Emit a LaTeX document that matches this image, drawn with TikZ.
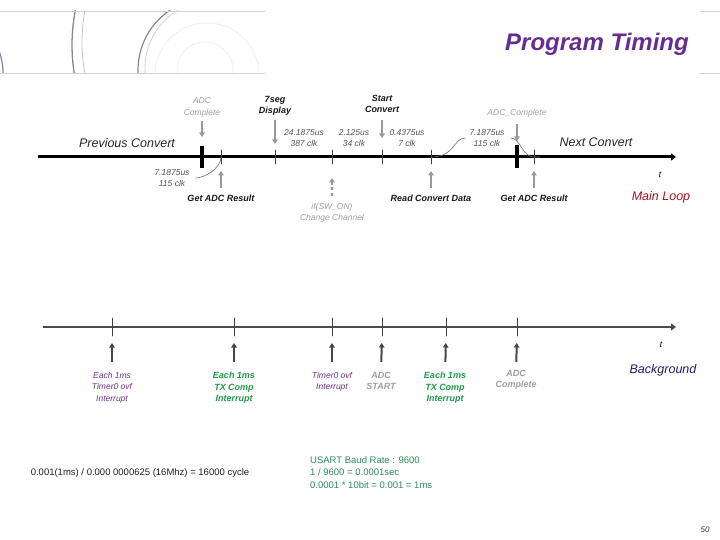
\documentclass[tikz,border=0pt]{standalone}
\usepackage{fontspec}
\setmainfont{Liberation Sans}
\usetikzlibrary{arrows.meta}
\definecolor{ttlpurple}{RGB}{102,45,145}
\definecolor{evpurple}{RGB}{110,50,140}
\definecolor{evgreen}{RGB}{30,155,70}
\definecolor{notegreen}{RGB}{40,140,90}
\definecolor{loopred}{RGB}{160,20,30}
\definecolor{bgnavy}{RGB}{30,30,110}
\definecolor{swirl}{RGB}{140,130,160}
\definecolor{slate}{RGB}{95,110,125}

\begin{document}
\begin{tikzpicture}[x=1pt,y=-1pt,>={Triangle[length=4.5pt,width=5.5pt]},line cap=round,
  hw/.style={align=center,inner sep=0pt,font=\itshape\fontsize{8.5}{11.5}\selectfont},
  hwb/.style={hw,font=\bfseries\itshape\fontsize{9}{11.5}\selectfont},
  big/.style={inner sep=0pt,font=\itshape\fontsize{12.5}{14}\selectfont},
  garr/.style={->,gray!80,line width=2pt,line cap=butt},
  barr/.style={->,gray!55!black,line width=2pt,line cap=butt},
  tk/.style={gray!50!black,line width=0.6pt},
  thk/.style={black,line width=3.8pt,line cap=butt},
  crv/.style={slate,line width=0.6pt}]
\useasboundingbox (0,0) rectangle (720,540);
\begin{scope}
\clip (0,11) rectangle (265,73);
\draw[swirl,line width=1.3pt] (250,45) circle (178);
\draw[swirl!50,line width=0.8pt] (252,42) circle (170);
\draw[swirl,line width=1.2pt] (210,70) ++(172:72) arc (172:236:72);
\draw[swirl!40,line width=0.8pt] (212,68) ++(172:67) arc (172:240:67);
\draw[gray!12,line width=1pt] (207,75) circle (52);
\draw[gray!12,line width=1pt] (205,70) circle (28);
\draw[swirl,line width=1.2pt] (-60,73) circle (63);
\end{scope}
\draw[gray!35,line width=0.8pt] (0,11) -- (265,11) (0,73) -- (265,73) (700,11) -- (720,11) (700,73) -- (720,73);
\node[ttlpurple,inner sep=0pt,font=\bfseries\itshape\fontsize{24}{24}\selectfont] (ttl) at (597,44) {Program Timing};

\coordinate (ls) at (38,157);
\coordinate (le) at (676,157);
\draw[-{Triangle[length=5pt,width=7pt]},line width=3pt,line cap=butt] (ls) -- (le);
\coordinate (p1) at (202,157);
\coordinate (p2) at (221,157);
\coordinate (p3) at (275,157);
\coordinate (p4) at (332,157);
\coordinate (p5) at (382,157);
\coordinate (p6) at (431,157);
\coordinate (p7) at (517,157);
\coordinate (p8) at (534,157);
\draw[thk] ([yshift=11pt]p1) -- ([yshift=-11pt]p1);
\draw[thk] ([yshift=12pt]p7) -- ([yshift=-11pt]p7);
\draw[tk] ([yshift=7pt]p2) -- ([yshift=-7pt]p2);
\draw[tk] ([yshift=7pt]p3) -- ([yshift=-7pt]p3);
\draw[tk] ([yshift=7pt]p4) -- ([yshift=-7pt]p4);
\draw[tk] ([yshift=7pt]p5) -- ([yshift=-7pt]p5);
\draw[tk] ([yshift=7pt]p6) -- ([yshift=-7pt]p6);
\draw[tk] ([yshift=7pt]p8) -- ([yshift=-7pt]p8);
\node[hw,gray!75,anchor=south] (adc1) at (202,117) {ADC\\Complete};
\draw[garr,shorten <=4pt,shorten >=20pt] (adc1) -- (p1);
\node[hwb,gray!20!black,anchor=south] (seg) at (275,116) {7seg\\Display};
\draw[garr,shorten <=4pt,shorten >=13pt] (seg) -- (p3);
\node[hwb,gray!20!black,anchor=south] (stc) at (382,113) {Start\\Convert};
\draw[garr,shorten <=7pt,shorten >=19pt] (stc) -- (p5);
\node[hw,gray!75,anchor=south] (adc2) at (517,117) {ADC\_Complete};
\draw[garr,shorten <=7pt,shorten >=16pt] (adc2) -- (p7);
\node[hwb,gray!20!black,anchor=north] (get1) at (221,195) {Get ADC Result};
\draw[garr,shorten <=7pt,shorten >=14pt] (get1) -- (p2);
\node[hw,gray!75,anchor=north] (chg) at (332,203) {if(SW\_ON)\\Change Channel};
\draw[garr,dash pattern=on 3pt off 2.5pt,shorten <=7pt,shorten >=21pt] (chg) -- (p4);
\node[hwb,gray!20!black,anchor=north] (rcd) at (431,195) {Read Convert Data};
\draw[garr,shorten <=7pt,shorten >=14pt] (rcd) -- (p6);
\node[hwb,gray!20!black,anchor=north] (get2) at (534,195) {Get ADC Result};
\draw[garr,shorten <=7pt,shorten >=14pt] (get2) -- (p8);
\node[hw,gray!65!black] (d0) at (172,178) {7.1875us\\115 clk};
\node[hw,gray!65!black] (d1) at (304,138) {24.1875us\\387 clk};
\node[hw,gray!65!black] (d2) at (354,138) {2.125us\\34 clk};
\node[hw,gray!65!black] (d3) at (407,138) {0.4375us\\7 clk};
\node[hw,gray!65!black] (d4) at (487,138) {7.1875us\\115 clk};
\draw[crv,shorten <=6pt] (d0.east) .. controls +(14,0) and +(0,12) .. (p2);
\draw[crv,shorten >=4pt] (p6) .. controls +(24,0) and +(-16,0) .. (d4.west);
\draw[crv,shorten <=6pt] (d4.east) .. controls +(16,0) and +(-12,0) .. (p8) -- +(6,0);
\node[big,gray!30!black] (prev) at (127,143) {Previous Convert};
\node[big,gray!30!black] (next) at (596,142) {Next Convert};
\node[hw] (t1) at (660,175) {t};
\node[big,loopred] (mloop) at (661,197) {Main Loop};

\coordinate (bs) at (43,327);
\coordinate (be) at (676,327);
\draw[-{Triangle[length=5pt,width=7pt]},gray!60!black,line width=2.5pt,line cap=butt] (bs) -- (be);
\coordinate (q1) at (112,327);
\coordinate (q2) at (234,327);
\coordinate (q3) at (332,327);
\coordinate (q4) at (382,327);
\coordinate (q5) at (446,327);
\coordinate (q6) at (517,327);
\draw[tk] ([yshift=9pt]q1) -- ([yshift=-9pt]q1);
\draw[tk] ([yshift=9pt]q2) -- ([yshift=-9pt]q2);
\draw[tk] ([yshift=9pt]q3) -- ([yshift=-9pt]q3);
\draw[tk] ([yshift=9pt]q4) -- ([yshift=-9pt]q4);
\draw[tk] ([yshift=9pt]q5) -- ([yshift=-9pt]q5);
\draw[tk] ([yshift=9pt]q6) -- ([yshift=-9pt]q6);
\node[hw,evpurple,anchor=north] (e1) at (112,372) {Each 1ms\\Timer0 ovf\\Interrupt};
\node[hwb,evgreen,anchor=north] (e2) at (234,372) {Each 1ms\\TX Comp\\Interrupt};
\node[hw,evpurple,anchor=north] (e3) at (332,372) {Timer0 ovf\\Interrupt};
\node[hwb,gray!75,anchor=north] (e4) at (381,372) {ADC\\START};
\node[hwb,evgreen,anchor=north] (e5) at (445,372) {Each 1ms\\TX Comp\\Interrupt};
\node[hwb,gray!75,anchor=north] (e6) at (516,370) {ADC\\Complete};
\draw[barr,shorten <=10pt,shorten >=16pt] (e1) -- (q1);
\draw[barr,shorten <=10pt,shorten >=16pt] (e2) -- (q2);
\draw[barr,shorten <=10pt,shorten >=16pt] (e3) -- (q3);
\draw[barr,shorten <=10pt,shorten >=16pt] (e4) -- (q4);
\draw[barr,shorten <=10pt,shorten >=16pt] (e5) -- (q5);
\draw[barr,shorten <=8pt,shorten >=16pt] (e6) -- (q6);
\node[hw] (t2) at (661,345) {t};
\node[big,bgnavy] (bgl) at (663,370) {Background};

\node[gray!25!black,inner sep=0pt,font=\fontsize{9.5}{12.5}\selectfont] (cyc) at (140,473) {0.001(1ms) / 0.000 0000625 (16Mhz) = 16000 cycle};
\node[notegreen,anchor=north west,align=left,inner sep=0pt,font=\fontsize{9.5}{12.5}\selectfont] (baud) at (310,456) {USART Baud Rate : 9600\\1 / 9600 = 0.0001sec\\0.0001 * 10bit = 0.001 = 1ms};
\node[gray!40!black,inner sep=0pt,font=\itshape\fontsize{8}{8}\selectfont] (pg) at (705,530) {50};
\end{tikzpicture}
\end{document}
